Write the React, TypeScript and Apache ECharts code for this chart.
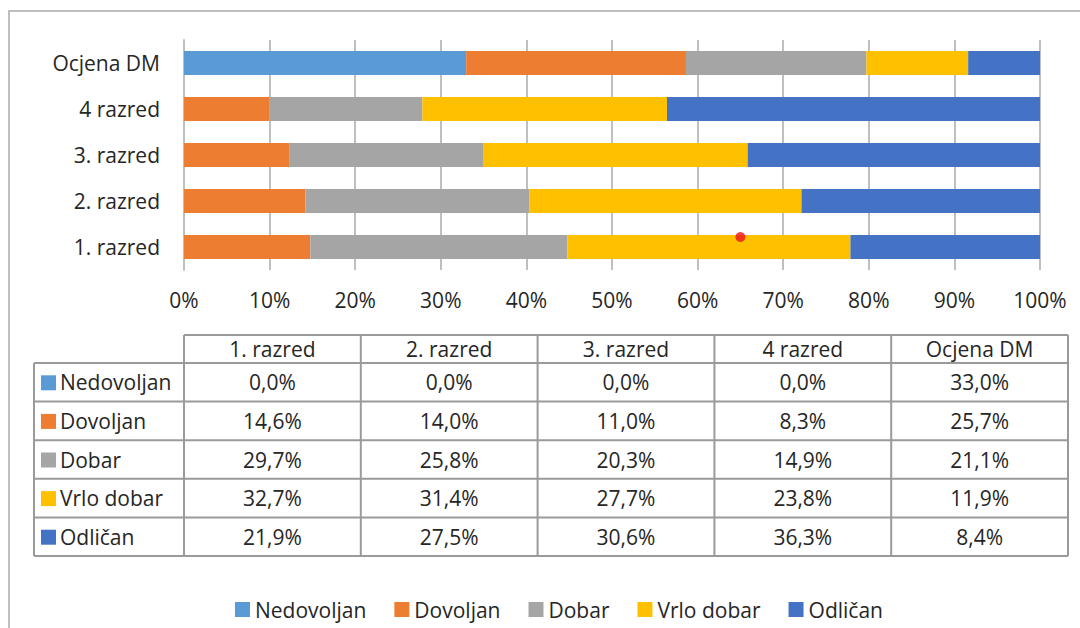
import React, { useEffect, useRef } from "react";
import * as echarts from "echarts";

const categories = ["1. razred", "2. razred", "3. razred", "4 razred", "Ocjena DM"];
const seriesNames = ["Nedovoljan", "Dovoljan", "Dobar", "Vrlo dobar", "Odličan"];
const colors = ["#5B9BD5", "#ED7D31", "#A5A5A5", "#FFC000", "#4472C4"];
const nedovoljan = [0.0, 0.0, 0.0, 0.0, 33.0];
const dovoljan = [14.6, 14.0, 11.0, 8.3, 25.7];
const dobar = [29.7, 25.8, 20.3, 14.9, 21.1];
const vrloDobar = [32.7, 31.4, 27.7, 23.8, 11.9];
const odlican = [21.9, 27.5, 30.6, 36.3, 8.4];
const xTicks = [0, 10, 20, 30, 40, 50, 60, 70, 80, 90, 100];
const markerPoint: [number, string] = [65, "1. razred"];

const allValues = [nedovoljan, dovoljan, dobar, vrloDobar, odlican];

const FONT = "Open Sans";
const TEXT = "#262626";
const FS = 21;

export default function App() {
  const ref = useRef<HTMLDivElement>(null);
  useEffect(() => {
    if (!ref.current) return;
    const chart = echarts.init(ref.current, null, { renderer: "svg" });
    const totals = categories.map((_, i) => allValues.reduce((s, a) => s + a[i], 0));

    const barSeries: any[] = allValues.map((vals, si) => ({
      type: "bar",
      name: seriesNames[si],
      stack: "total",
      barWidth: 24,
      itemStyle: { color: colors[si] },
      data: vals.map((v, i) => (v / totals[i]) * 100),
    }));

    // table
    const tLeft = 34;
    const c0 = 184;
    const tRight = 1068;
    const colW = (tRight - c0) / categories.length;
    const hTop = 335;
    const hH = 28;
    const bTop = hTop + hH;
    const rowH = 38.6;
    const bBottom = bTop + rowH * seriesNames.length;
    const lineStyle = { stroke: "#9a9a9a", lineWidth: 2 };
    const g: any[] = [];
    // outer frame
    g.push({ type: "line", shape: { x1: 8, y1: 11, x2: 1080, y2: 11 }, style: { stroke: "#bfbfbf", lineWidth: 2 } });
    g.push({ type: "line", shape: { x1: 9, y1: 11, x2: 9, y2: 628 }, style: { stroke: "#bfbfbf", lineWidth: 2 } });
    // horizontal lines
    g.push({ type: "line", shape: { x1: c0, y1: hTop, x2: tRight, y2: hTop }, style: lineStyle });
    for (let r = 0; r <= seriesNames.length; r++) {
      const y = bTop + r * rowH;
      g.push({ type: "line", shape: { x1: tLeft, y1: y, x2: tRight, y2: y }, style: lineStyle });
    }
    g.push({ type: "line", shape: { x1: tLeft, y1: bTop, x2: tLeft, y2: bBottom }, style: lineStyle });
    for (let c = 0; c <= categories.length; c++) {
      const x = c0 + c * colW;
      g.push({ type: "line", shape: { x1: x, y1: hTop, x2: x, y2: bBottom }, style: lineStyle });
    }
    categories.forEach((cat, c) => {
      g.push({
        type: "text",
        x: c0 + c * colW + colW / 2,
        y: hTop + hH / 2,
        style: { text: cat, fontSize: FS, fontFamily: FONT, fill: TEXT, align: "center", verticalAlign: "middle" },
      });
    });
    seriesNames.forEach((name, r) => {
      const yc = bTop + r * rowH + rowH / 2;
      g.push({ type: "rect", shape: { x: 41, y: yc - 7, width: 15, height: 15 }, style: { fill: colors[r] } });
      g.push({
        type: "text",
        x: 60,
        y: yc,
        style: { text: name, fontSize: FS, fontFamily: FONT, fill: TEXT, align: "left", verticalAlign: "middle" },
      });
      allValues[r].forEach((v, c) => {
        g.push({
          type: "text",
          x: c0 + c * colW + colW / 2,
          y: yc,
          style: {
            text: v.toFixed(1).replace(".", ",") + "%",
            fontSize: FS,
            fontFamily: FONT,
            fill: TEXT,
            align: "center",
            verticalAlign: "middle",
          },
        });
      });
    });

    chart.setOption({
      animation: false,
      backgroundColor: "#fff",
      textStyle: { fontFamily: FONT },
      grid: { left: 184, right: 40, top: 40, bottom: 358, containLabel: false },
      legend: {
        data: seriesNames,
        left: 230,
        top: 594,
        icon: "rect",
        itemWidth: 15,
        itemHeight: 15,
        itemGap: 28,
        textStyle: { fontSize: FS, fontFamily: FONT, color: TEXT },
      },
      xAxis: {
        type: "value",
        min: xTicks[0],
        max: xTicks[xTicks.length - 1],
        interval: xTicks[1] - xTicks[0],
        axisLabel: { formatter: "{value}%", fontSize: FS, color: TEXT, margin: 19 },
        splitLine: { show: true, lineStyle: { color: "#bfbfbf", width: 2 } },
        axisLine: { show: false },
        axisTick: { show: false },
      },
      yAxis: {
        type: "category",
        data: categories,
        axisLabel: { fontSize: FS, color: TEXT, margin: 24 },
        axisLine: { show: true, lineStyle: { color: "#bfbfbf", width: 2 } },
        axisTick: { show: false },
      },
      series: [
        ...barSeries,
        {
          type: "scatter",
          name: "marker",
          data: [markerPoint],
          symbolSize: 10,
          symbolOffset: [0, -10],
          itemStyle: { color: "#e8141b" },
          z: 10,
        },
      ],
      graphic: g,
    });
    return () => chart.dispose();
  }, []);
  return (
    <div
      ref={ref}
      style={{ position: "absolute", left: 0, top: 0, width: 1080, height: 628 }}
    />
  );
}
